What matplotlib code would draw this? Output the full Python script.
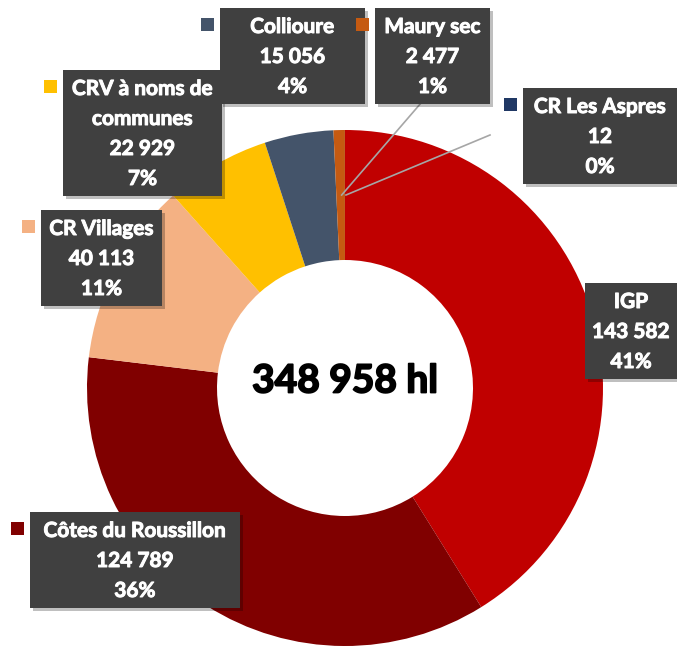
import matplotlib
matplotlib.use("Agg")
import matplotlib.pyplot as plt
from matplotlib.patches import Rectangle
import matplotlib.patheffects as pe
import numpy as np

# data
names = ["IGP", "Côtes du Roussillon", "CR Villages", "CRV à noms de\ncommunes",
         "Collioure", "Maury sec", "CR Les Aspres"]
volumes = [143582, 124789, 40113, 22929, 15056, 2477, 12]
shown_vol = ["143 582", "124 789", "40 113", "22 929", "15 056", "2 477", "12"]
shown_pct = ["41%", "36%", "11%", "7%", "4%", "1%", "0%"]
total_txt = "348 958 hl"
colors = ["#C00000", "#800000", "#F4B183", "#FFC000", "#44546A", "#C55A11", "#203864"]

W, H = 677, 647
fig = plt.figure(figsize=(W / 100, H / 100), dpi=100)
ax = fig.add_axes([0, 0, 1, 1])

# y axis inverted -> image coords; start at top going clockwise
wedges, _ = ax.pie(volumes, colors=colors, startangle=-90, counterclock=True,
                   radius=258, center=(345, 388),
                   wedgeprops=dict(width=130, linewidth=0))
ax.set_xlim(0, W)
ax.set_ylim(H, 0)
ax.set_aspect("equal")
ax.axis("off")

ax.text(345, 381, total_txt, ha="center", va="center", fontsize=28,
        fontweight="bold", family="Lato", color="black",
        path_effects=[pe.withStroke(linewidth=1.3, foreground="black")])

# label boxes: left, top, width
box_x = [585, 30, 41, 63, 220, 375, 523]
box_y = [283, 512, 210, 70, 8, 8, 88]
box_w = [100, 210, 121, 159, 145, 115, 160]
lead = [None, None, None, None, None, (421, 103), (490, 135)]

for i, w in enumerate(wedges):
    lines = names[i].split("\n") + [shown_vol[i], shown_pct[i]]
    x0, y0, bw = box_x[i], box_y[i], box_w[i]
    bh = 30 * len(lines) + 6
    if lead[i] is not None:
        th = np.deg2rad((w.theta1 + w.theta2) / 2)
        rm = 258 - 65
        ax.plot([lead[i][0], 346 + rm * np.cos(th)], [lead[i][1], 388 + rm * np.sin(th)],
                color="#A6A6A6", lw=1.2, zorder=3)
    ax.add_patch(Rectangle((x0 + 3, y0 + 3), bw, bh, color="#000000", alpha=0.25,
                           lw=0, zorder=4))
    ax.add_patch(Rectangle((x0, y0), bw, bh, color="#404040", lw=0, zorder=5))
    ax.add_patch(Rectangle((x0 - 19, y0 + 10), 13, 13, color=colors[i], lw=0, zorder=5))
    cx = x0 + (W - x0) / 2 if x0 + bw > W else x0 + bw / 2
    for k, t in enumerate(lines):
        ax.text(cx, y0 + 19 + 30 * k, t, ha="center", va="center", fontsize=15,
                fontweight="bold", family="Lato", color="white", zorder=6,
                path_effects=[pe.withStroke(linewidth=0.7, foreground="white")])

fig.savefig("out.png", dpi=100)
